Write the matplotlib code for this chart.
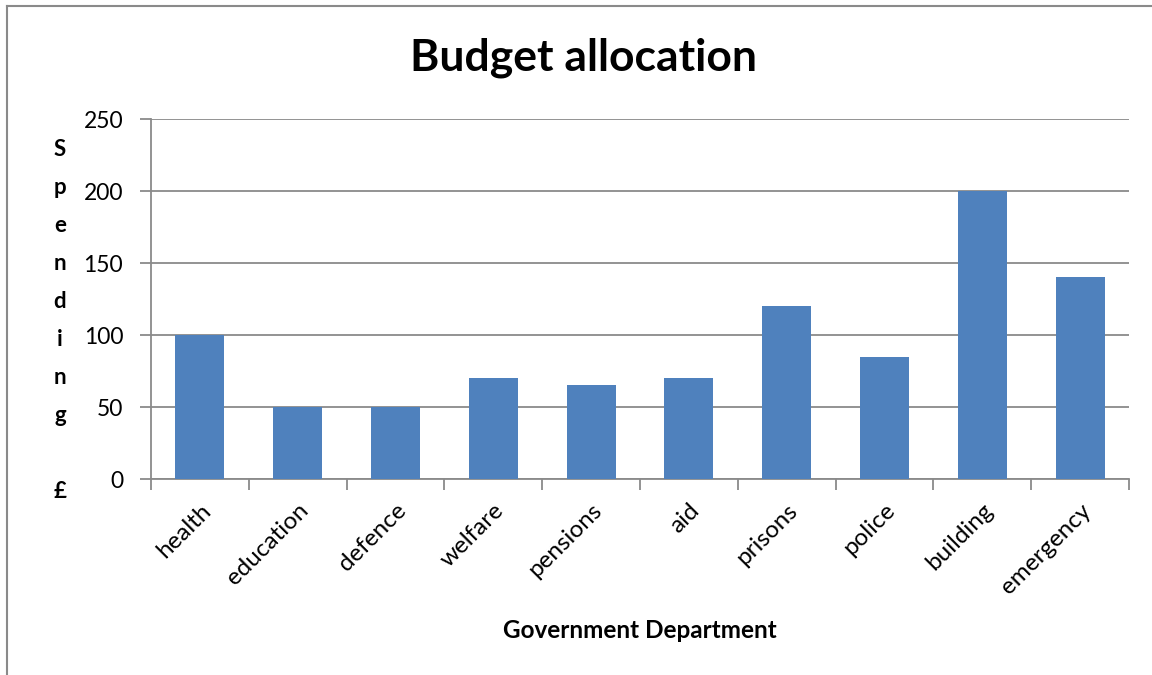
import matplotlib
matplotlib.use("Agg")
import matplotlib.pyplot as plt
from matplotlib.lines import Line2D

categories = ["health", "education", "defence", "welfare", "pensions",
              "aid", "prisons", "police", "building", "emergency"]
spending = [100, 50, 50, 70, 65, 70, 120, 85, 200, 140]
y_ticks = [0, 50, 100, 150, 200, 250]

title = "Budget allocation"
x_label = "Government Department"
y_label = "S\np\ne\nn\nd\ni\nn\ng\n\n£"

FONT = "Lato"
GREY = "#8a8a8a"
BAR = "#4F81BD"

plt.rcParams["font.family"] = [FONT, "DejaVu Sans"]

fig = plt.figure(figsize=(11.52, 6.75), dpi=100)
ax = fig.add_axes([151 / 1152, 1 - 479 / 675, (1129 - 151) / 1152, (479 - 119) / 675])

x = list(range(len(categories)))
ax.bar(x, spending, width=0.5, color=BAR, zorder=3)

ax.set_xlim(-0.5, len(categories) - 0.5)
ax.set_ylim(0, 250)
ax.set_yticks(y_ticks)
ax.set_yticklabels([str(v) for v in y_ticks], fontsize=16.5)
ax.yaxis.grid(True, color=GREY, linewidth=1.3, zorder=0)
ax.set_axisbelow(True)

ax.set_xticks(x)
ax.set_xticklabels(categories, rotation=45, ha="right", va="top",
                   rotation_mode="anchor", fontsize=17.5)
ax.set_xticks([i - 0.5 for i in range(len(categories) + 1)], minor=True)
ax.tick_params(axis="x", which="major", length=0, pad=15)
ax.tick_params(axis="x", which="minor", length=8, width=1.3, color=GREY)
ax.tick_params(axis="y", length=8, width=1.3, color=GREY, pad=12)

for s in ["top", "right"]:
    ax.spines[s].set_visible(False)
for s in ["left", "bottom"]:
    ax.spines[s].set_color(GREY)
    ax.spines[s].set_linewidth(1.3)

fig.text(583 / 1152, 1 - 58 / 675, title, ha="center", va="center",
         fontsize=32, fontweight="bold")
fig.text(640 / 1152, 1 - 630 / 675, x_label, ha="center", va="center",
         fontsize=17.5, fontweight="bold")
fig.text(60 / 1152, 1 - 320 / 675, y_label, ha="center", va="center",
         fontsize=16, fontweight="bold", linespacing=2.0)

fig.add_artist(Line2D([7 / 1152, 7 / 1152], [0, 1 - 6 / 675], transform=fig.transFigure,
                      color=GREY, linewidth=1.5))
fig.add_artist(Line2D([7 / 1152, 1], [1 - 6 / 675, 1 - 6 / 675], transform=fig.transFigure,
                      color=GREY, linewidth=1.5))

fig.savefig("out.png", dpi=100, facecolor="white")
